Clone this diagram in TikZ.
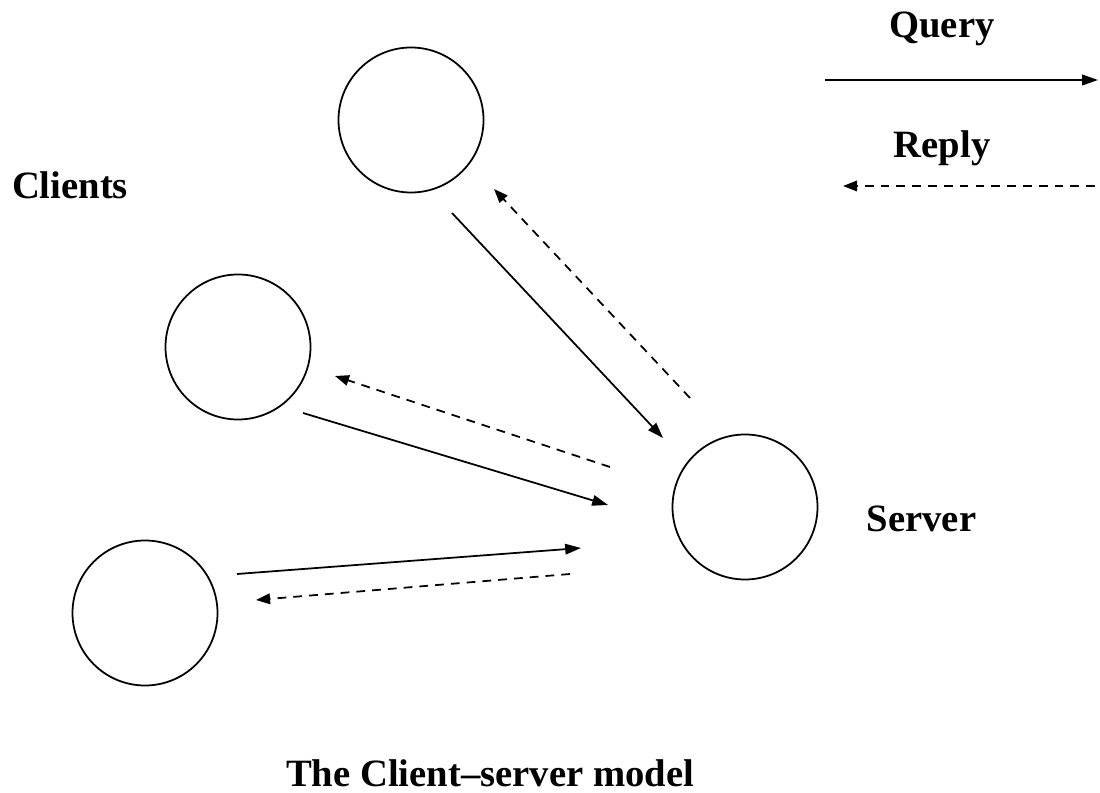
\documentclass[tikz,border=0pt]{standalone}
\usepackage{fontspec}
\setmainfont{Liberation Serif}
\usetikzlibrary{arrows.meta,positioning}

\tikzset{
    host/.style={circle, draw, line width=1pt, minimum size=2.9cm, inner sep=0pt},
    lbl/.style={font=\fontsize{22}{26}\selectfont\bfseries},
    query/.style={line width=1pt, -{Triangle[length=9pt,width=6pt]}},
    reply/.style={line width=1pt, dash pattern=on 5pt off 4pt, -{Triangle[length=8pt,width=6pt]}}
}

\begin{document}
\begin{tikzpicture}
    \useasboundingbox (0,0) rectangle (22,-15.86);

    % Clients and server
    \node[host] (top) at (8.22,-2.40) {};
    \node[host] (mid) at (4.76,-6.94) {};
    \node[host] (low) at (2.90,-12.26) {};
    \node[host] (server) at (14.90,-10.14) {};

    % Labels
    \node[lbl] (clients) at (1.40,-3.70) {Clients};
    \node[lbl] (srvlbl) at (18.43,-10.38) {Server};
    \node[lbl] (title) at (9.80,-15.46) {The Client--server model};

    % Legend
    \node[lbl] (qlbl) at (18.84,-0.58) {Query};
    \node[lbl] (rlbl) at (18.84,-2.96) {Reply};
    \coordinate (qa) at (16.50,-1.60);
    \coordinate (qb) at (21.96,-1.60);
    \coordinate (ra) at (21.90,-3.72);
    \coordinate (rb) at (16.86,-3.72);
    \draw[query] (qa) -- (qb);
    \draw[reply] (ra) -- (rb);

    % Queries to the server
    \draw[query] ([shift={(0.82,-1.86)}]top.center) -- ([shift={(-1.64,1.38)}]server.center);
    \draw[query] ([shift={(1.30,-1.32)}]mid.center) -- ([shift={(-2.74,0.04)}]server.center);
    \draw[query] ([shift={(1.84,0.78)}]low.center) -- ([shift={(-3.28,-0.82)}]server.center);

    % Replies to the clients
    \draw[reply] ([shift={(-1.10,2.18)}]server.center) -- ([shift={(1.66,-1.38)}]top.center);
    \draw[reply] ([shift={(-2.70,0.80)}]server.center) -- ([shift={(1.94,-0.58)}]mid.center);
    \draw[reply] ([shift={(-3.50,-1.34)}]server.center) -- ([shift={(2.22,0.26)}]low.center);

\end{tikzpicture}
\end{document}
